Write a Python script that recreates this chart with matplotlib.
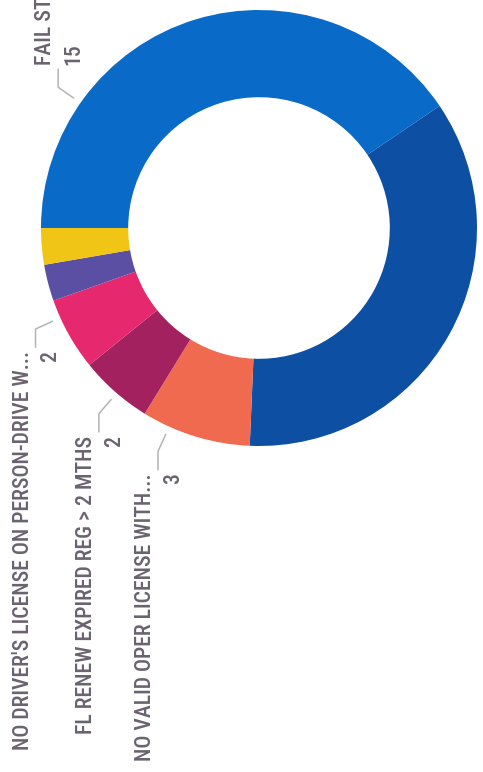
import numpy as np
import matplotlib
matplotlib.use("Agg")
import matplotlib.pyplot as plt
from matplotlib import font_manager

# slices in drawing order (clockwise from 9 o'clock); labels of hidden slices fall off the scan
categories = ["FAIL ST", "", "NO VALID OPER LICENSE WITH...",
              "FL RENEW EXPIRED REG > 2 MTHS", "NO DRIVER'S LICENSE ON PERSON-DRIVE W...", "", ""]
values = [15, 13, 3, 2, 2, 1, 1]
value_labels = ["15", "", "3", "2", "2", "", ""]
colors = ["#0a6ac8", "#0d4fa3", "#f06a50", "#a3215e", "#e6286f", "#5a4fa2", "#f1c516"]
# where along each slice the leader line sits (0 = start, 1 = end), None = no label
label_frac = [0.24, None, 0.75, 0.47, 0.75, None, None]

W_PX, H_PX = 483, 772
CX, CY, R_PX = 259, 228, 218   # donut centre and outer radius in pixels

installed = {f.name for f in font_manager.fontManager.ttflist}
FONT = "DejaVu Sans"
for cand in ["Liberation Sans Narrow", "DejaVu Sans Condensed", "Roboto Condensed", "Roboto"]:
    if cand in installed:
        FONT = cand
        break
TXT = "#6b6270"
LEAD = "#b4b4b4"

fig = plt.figure(figsize=(W_PX / 100, H_PX / 100), dpi=100)
fig.patch.set_facecolor("white")
ax = fig.add_axes([(CX - R_PX) / W_PX, 1 - (CY + R_PX) / H_PX,
                   2 * R_PX / W_PX, 2 * R_PX / H_PX])
ax.set_axis_off()

# size the label font so the FL RENEW label is as long as in the scan (~297 px)
rend = fig.canvas.get_renderer()
probe = fig.text(0, 0, categories[3], fontsize=10, family=FONT, weight="medium")
FSIZE = 10 * 297 / probe.get_window_extent(rend).width
probe.remove()

wedges, _ = ax.pie(values, colors=colors, startangle=180, counterclock=False,
                   radius=1, wedgeprops=dict(width=0.4, edgecolor="none"))
ax.set_xlim(-1, 1)
ax.set_ylim(-1, 1)

px = 1 / R_PX
for w, name, val, frac in zip(wedges, categories, value_labels, label_frac):
    if frac is None:
        continue
    ang = np.deg2rad(w.theta2 - frac * (w.theta2 - w.theta1))
    c, s = np.cos(ang), np.sin(ang)
    x0, y0 = 1.04 * c, 1.04 * s
    x1, y1 = 1.125 * c, 1.125 * s
    up = 1 if s > 0 else -1
    y2 = y1 + up * 18 * px
    ax.plot([x0, x1, x1], [y0, y1, y2], color=LEAD, lw=1.1, clip_on=False,
            solid_joinstyle="miter")
    ty = y2 + up * 4 * px
    va = "bottom" if up > 0 else "top"
    ax.text(x1 - 13 * px, ty, name, rotation=90, ha="center", va=va,
            color=TXT, fontsize=FSIZE, family=FONT, weight="medium", clip_on=False)
    ax.text(x1 + 15 * px, ty, val, rotation=90, ha="center", va=va,
            color=TXT, fontsize=FSIZE, family=FONT, weight="medium", clip_on=False)

fig.savefig("out.png", dpi=100, facecolor="white")
